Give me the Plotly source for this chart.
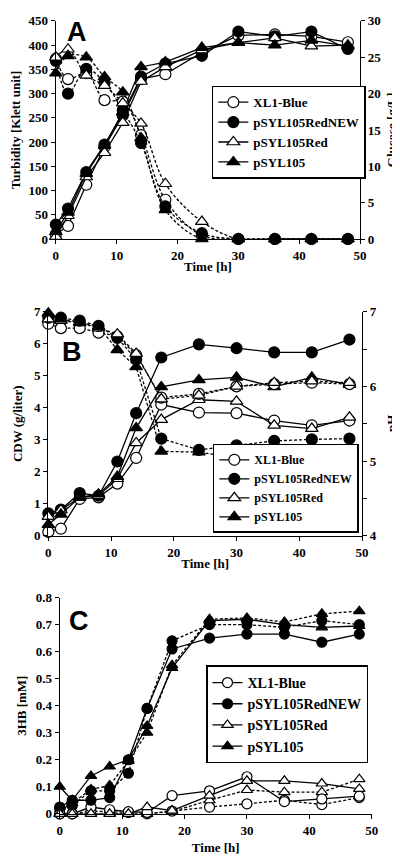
import plotly.graph_objects as go

# ---------------- data ----------------
time_h = [0, 2, 5, 8, 11, 14, 18, 24, 30, 36, 42, 48]
strains = ["XL1-Blue", "pSYL105RedNEW", "pSYL105Red", "pSYL105"]

# Panel A: turbidity [Klett unit] (solid) and glucose [g/L] (dashed)
turb_xl1 = [10, 27, 112, 190, 255, 330, 340, 385, 420, 422, 418, 406]
turb_rednew = [30, 63, 138, 195, 258, 335, 362, 378, 428, 418, 428, 392]
turb_red = [5, 48, 128, 178, 240, 325, 355, 390, 405, 415, 398, 400]
turb_105 = [15, 55, 135, 193, 262, 355, 365, 395, 405, 400, 410, 398]

gluc_xl1 = [24.8, 22.0, 22.8, 19.1, 18.9, 14.3, 5.4, 0.5, 0, 0, 0, 0]
gluc_rednew = [24.5, 20.0, 23.4, 21.5, 17.7, 13.2, 4.5, 0.8, 0, 0, 0, 0]
gluc_red = [25.0, 26.1, 22.5, 21.1, 18.7, 15.9, 7.6, 2.4, 0, 0, 0, 0]
gluc_105 = [22.8, 25.2, 25.0, 22.3, 20.2, 13.9, 4.0, 0, 0, 0, 0, 0]

# Panel B: CDW [g/liter] (solid) and pH (dashed)
cdw_xl1 = [0.12, 0.22, 1.15, 1.2, 1.63, 2.43, 4.1, 3.85, 3.83, 3.6, 3.45, 3.6]
cdw_rednew = [0.7, 0.82, 1.33, 1.25, 2.32, 3.83, 5.57, 5.98, 5.86, 5.73, 5.73, 6.13]
cdw_red = [0.6, 0.8, 1.2, 1.25, 1.78, 2.9, 3.63, 4.25, 4.2, 3.45, 3.35, 3.7]
cdw_105 = [0.35, 0.67, 1.2, 1.3, 1.85, 3.37, 4.65, 4.87, 4.95, 4.65, 4.95, 4.72]

ph_xl1 = [6.84, 6.78, 6.78, 6.72, 6.67, 6.42, 5.85, 5.9, 6.0, 6.03, 6.05, 6.03]
ph_rednew = [6.92, 6.92, 6.88, 6.81, 6.65, 6.36, 5.3, 5.15, 5.21, 5.27, 5.29, 5.3]
ph_red = [6.9, 6.88, 6.85, 6.78, 6.7, 6.44, 5.83, 5.88, 6.0, 6.05, 6.07, 6.05]
ph_105 = [6.98, 6.9, 6.86, 6.8, 6.49, 6.26, 5.13, 5.12, 5.04, 4.97, 5.06, 5.1]

# Panel C: 3HB [mM], two replicates (solid / dashed)
hb_xl1_a = [0.0, 0.0, 0.025, 0.015, 0.008, 0.005, 0.067, 0.085, 0.137, 0.045, 0.055, 0.065]
hb_xl1_b = [0.0, 0.0, 0.01, 0.008, 0.005, 0.0, 0.01, 0.025, 0.037, 0.05, 0.034, 0.06]
hb_rednew_a = [0.025, 0.05, 0.05, 0.06, 0.2, 0.39, 0.61, 0.65, 0.665, 0.665, 0.635, 0.665]
hb_rednew_b = [0.02, 0.03, 0.085, 0.085, 0.15, 0.39, 0.64, 0.70, 0.70, 0.69, 0.715, 0.70]
hb_red_a = [0.0, 0.0, 0.0, 0.0, 0.0, 0.025, 0.012, 0.067, 0.122, 0.122, 0.112, 0.092]
hb_red_b = [0.0, 0.0, 0.0, 0.0, 0.0, 0.0, 0.008, 0.05, 0.088, 0.08, 0.08, 0.128]
hb_105_a = [0.1, 0.05, 0.14, 0.175, 0.2, 0.325, 0.54, 0.715, 0.72, 0.70, 0.69, 0.695]
hb_105_b = [0.0, 0.04, 0.09, 0.105, 0.195, 0.30, 0.55, 0.72, 0.725, 0.71, 0.74, 0.75]

# ---------------- styles ----------------
SERIF = "Liberation Serif"
SANS = "Liberation Sans"
marker_style = {
    "XL1-Blue": dict(symbol="circle", color="white", line=dict(color="black", width=1.2)),
    "pSYL105RedNEW": dict(symbol="circle", color="black", line=dict(color="black", width=1.2)),
    "pSYL105Red": dict(symbol="triangle-up", color="white", line=dict(color="black", width=1.2)),
    "pSYL105": dict(symbol="triangle-up", color="black", line=dict(color="black", width=1.2)),
}
DASH = "3px,2px"

fig = go.Figure()


def add(name, x, y, xa, ya, dash, legend, show, size=11, shape="linear"):
    m = dict(marker_style[name])
    m["size"] = size
    fig.add_trace(go.Scatter(
        x=x, y=y, name=name, mode="lines+markers",
        xaxis=xa, yaxis=ya,
        line=dict(color="black", width=1.3, dash=dash, shape=shape),
        marker=m, cliponaxis=False,
        legend=legend, showlegend=show,
    ))


# Panel A
for nm, g in zip(strains, [gluc_xl1, gluc_rednew, gluc_red, gluc_105]):
    add(nm, time_h, g, "x", "y2", DASH, "legend", False, shape="spline")
for nm, t in zip(strains, [turb_xl1, turb_rednew, turb_red, turb_105]):
    add(nm, time_h, t, "x", "y", "solid", "legend", True)

# Panel B
for nm, p in zip(strains, [ph_xl1, ph_rednew, ph_red, ph_105]):
    add(nm, time_h, p, "x2", "y4", DASH, "legend2", False)
for nm, c in zip(strains, [cdw_xl1, cdw_rednew, cdw_red, cdw_105]):
    add(nm, time_h, c, "x2", "y3", "solid", "legend2", True)

# Panel C
for nm, b in zip(strains, [hb_xl1_b, hb_rednew_b, hb_red_b, hb_105_b]):
    add(nm, time_h, b, "x3", "y5", DASH, "legend3", False, size=10)
for nm, a in zip(strains, [hb_xl1_a, hb_rednew_a, hb_red_a, hb_105_a]):
    add(nm, time_h, a, "x3", "y5", "solid", "legend3", True, size=10)

W, H = 400, 858


def xd(a, b):
    return [a / W, b / W]


def yd(top, bottom):
    return [1 - bottom / H, 1 - top / H]


tickfont = dict(family=SERIF, size=13, color="black", weight="bold")
titlefont = dict(family=SERIF, size=13, color="black", weight="bold")
base = dict(showline=True, linecolor="black", linewidth=1.4, ticks="outside",
            ticklen=4, tickwidth=1.2, tickcolor="black", showgrid=False,
            zeroline=False, tickfont=tickfont)

fig.update_layout(
    width=W, height=H, margin=dict(l=0, r=0, t=0, b=0),
    paper_bgcolor="white", plot_bgcolor="white",
    xaxis=dict(base, domain=xd(46, 358), range=[0, 50], dtick=10, anchor="y",
               title=dict(text="Time [h]", font=titlefont, standoff=0)),
    yaxis=dict(base, domain=yd(6, 228), range=[0, 450], dtick=50, anchor="x",
               title=dict(text="Turbidity [Klett unit]", font=titlefont, standoff=6)),
    yaxis2=dict(base, overlaying="y", side="right", range=[0, 30], dtick=5, anchor="x"),
    xaxis2=dict(base, domain=xd(38.3, 360), range=[0, 50], dtick=10, anchor="y3",
                title=dict(text="Time [h]", font=titlefont, standoff=0)),
    yaxis3=dict(base, domain=yd(302, 530), range=[0, 7], dtick=1, anchor="x2",
                title=dict(text="CDW (g/liter)", font=titlefont, standoff=8)),
    yaxis4=dict(base, overlaying="y3", side="right", range=[4, 7], anchor="x2",
                tickvals=[4, 4.5, 5, 5.5, 6, 6.5, 7],
                ticktext=["4", "", "5", "", "6", "", "7"]),
    xaxis3=dict(base, domain=xd(50, 370), range=[0, 50], dtick=10, anchor="y5",
                title=dict(text="Time [h]", font=titlefont, standoff=6)),
    yaxis5=dict(base, domain=yd(593, 813), range=[0, 0.8], anchor="x3",
                tickvals=[0, 0.1, 0.2, 0.3, 0.4, 0.5, 0.6, 0.7, 0.8],
                ticktext=["0", "0.1", "0.2", "0.3", "0.4", "0.5", "0.6", "0.7", "0.8"],
                title=dict(text="3HB [mM]", font=titlefont, standoff=6)),
)

leg_common = dict(bgcolor="white", bordercolor="black", borderwidth=1.5,
                  xanchor="left", itemwidth=30, tracegroupgap=0,
                  traceorder="normal", itemsizing="trace")
fig.update_layout(
    legend=dict(leg_common, x=206 / W, y=1 - 72 / H, yanchor="top",
                font=dict(family=SERIF, size=13, color="black", weight="bold")),
    legend2=dict(leg_common, x=207 / W, y=1 - 527 / H, yanchor="bottom",
                 font=dict(family=SERIF, size=12, color="black", weight="bold")),
    legend3=dict(leg_common, x=200 / W, y=1 - 662 / H, yanchor="top",
                 font=dict(family=SERIF, size=14, color="black", weight="bold")),
)

# right-axis titles (rotated text)
for txt, x, y in [("Glucose [g/L]", 391, 117), ("pH", 391, 416)]:
    fig.add_annotation(text=txt, x=x / W, y=1 - y / H, xref="paper", yref="paper",
                       showarrow=False, xanchor="center", yanchor="middle",
                       textangle=-90, font=titlefont)

for txt, x, y in [("A", 68, 17), ("B", 63, 343), ("C", 70, 617)]:
    fig.add_annotation(text=txt, x=x / W, y=1 - y / H, xref="paper", yref="paper",
                       showarrow=False, xanchor="center", yanchor="middle",
                       font=dict(family=SANS, size=27, color="black", weight="bold"))

fig.write_html("out.html")
